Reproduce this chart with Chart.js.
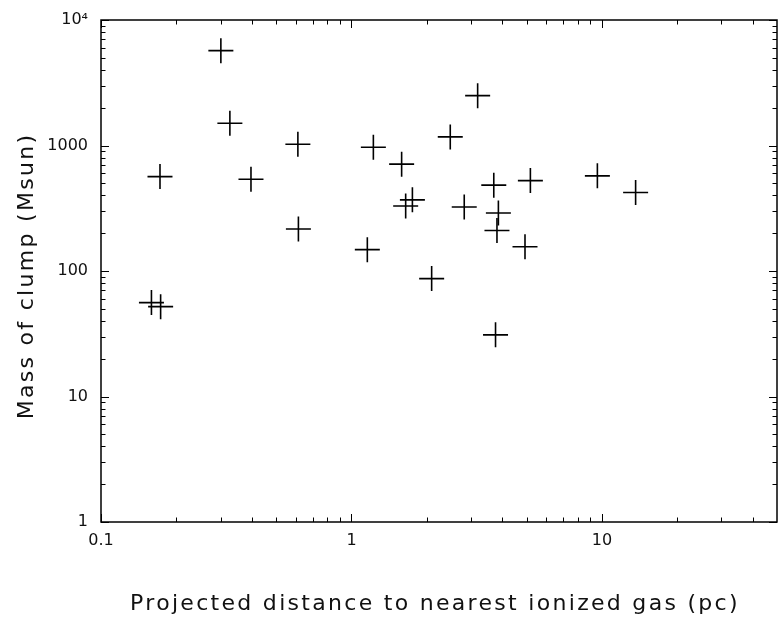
<!DOCTYPE html>
<html>
<head>
<meta charset="utf-8">
<script src="https://cdn.jsdelivr.net/npm/chart.js@4"></script>
<style>
  body { margin: 0; background: #fff; }
  canvas { display: block; }
</style>
</head>
<body>
<canvas id="clumps" width="782" height="619"></canvas>
<script>
// ---- data ----
const distance = [0.301, 0.327, 0.172, 0.397, 0.611, 0.614, 0.159, 0.173, 1.157, 1.223,
  1.586, 1.751, 1.646, 2.09, 2.48, 2.82, 3.19, 3.70, 3.86, 3.81, 3.76, 4.93, 5.18, 9.59, 13.63];
const mass = [5700, 1505, 565, 539, 1024, 216, 56, 52, 148, 969,
  710, 369, 330, 87, 1171, 324, 2496, 483, 290, 210, 31, 156, 525, 573, 422];

// axis ticks
const xTickValues = [0.1, 1, 10];
const xTickLabels = ['0.1', '1', '10'];
const yTickValues = [1, 10, 100, 1000, 10000];
const yTickLabels = ['1', '10', '100', '1000', '10\u2074'];
const xMinorDecades = [0.1, 1, 10];
const yMinorDecades = [1, 10, 100, 1000];
const minorSteps = [2, 3, 4, 5, 6, 7, 8, 9];

const X_MIN = 0.1, X_MAX = 50;
const Y_MIN = 1, Y_MAX = 10000;

const points = distance.map((d, i) => ({ x: d, y: mass[i] }));

function minorTicks(decades, max) {
  const out = [];
  decades.forEach(d => minorSteps.forEach(s => {
    const v = d * s;
    if (v < max) out.push(v);
  }));
  return out;
}

// small nudges so the titles sit where the original put them
const titleShift = { x: [-4, 0], y: [0, 5] };

// frame with inward ticks on all four sides
const frameTicks = {
  id: 'frameTicks',
  afterLayout(chart) {
    // wide, spaced-out axis titles like the original plot
    ['x', 'y'].forEach(id => {
      const s = chart.scales[id];
      if (s._spaced) return;
      const orig = s.drawTitle.bind(s);
      s.drawTitle = function () {
        const c = this.ctx;
        c.save();
        c.translate(titleShift[id][0], titleShift[id][1]);
        c.letterSpacing = '2.3px';
        orig();
        c.restore();
      };
      s._spaced = true;
    });
  },
  afterDraw(chart) {
    const ctx = chart.ctx;
    const { left, right, top, bottom } = chart.chartArea;
    const xs = chart.scales.x, ys = chart.scales.y;
    ctx.save();
    ctx.strokeStyle = '#000';
    ctx.lineWidth = 1.5;
    ctx.strokeRect(left, top, right - left, bottom - top);
    ctx.lineWidth = 1;
    ctx.beginPath();
    const xt = (v, len) => {
      const px = Math.round(xs.getPixelForValue(v)) + 0.5;
      ctx.moveTo(px, bottom); ctx.lineTo(px, bottom - len);
      ctx.moveTo(px, top); ctx.lineTo(px, top + len);
    };
    const yt = (v, len) => {
      const py = Math.round(ys.getPixelForValue(v)) + 0.5;
      ctx.moveTo(left, py); ctx.lineTo(left + len, py);
      ctx.moveTo(right, py); ctx.lineTo(right - len, py);
    };
    xTickValues.forEach(v => xt(v, 8));
    minorTicks(xMinorDecades, X_MAX).forEach(v => xt(v, 4.5));
    yTickValues.forEach(v => yt(v, 8));
    minorTicks(yMinorDecades, Y_MAX).forEach(v => yt(v, 4.5));
    ctx.stroke();
    ctx.restore();
  }
};

const tickFont = { family: 'DejaVu Sans', size: 16 };
const titleFont = { family: 'DejaVu Sans', size: 22 };

new Chart(document.getElementById('clumps'), {
  type: 'scatter',
  data: {
    datasets: [{
      data: points,
      pointStyle: 'cross',
      radius: 12.5,
      hoverRadius: 12.5,
      borderColor: '#000',
      borderWidth: 1.6,
      hoverBorderWidth: 1.6
    }]
  },
  options: {
    responsive: false,
    animation: false,
    devicePixelRatio: 1,
    layout: { autoPadding: false, padding: { top: 20, right: 5, left: 0, bottom: 0 } },
    plugins: { legend: { display: false }, tooltip: { enabled: false } },
    scales: {
      x: {
        type: 'logarithmic',
        min: X_MIN,
        max: X_MAX,
        grid: { display: false, drawTicks: false },
        border: { display: false },
        afterBuildTicks: s => { s.ticks = xTickValues.map(v => ({ value: v })); },
        afterFit: s => { s.height = 97; s.paddingLeft = 0; s.paddingRight = 0; },
        ticks: {
          autoSkip: false,
          maxRotation: 0,
          padding: 9,
          color: '#111',
          font: tickFont,
          callback: (v) => xTickLabels[xTickValues.indexOf(v)]
        },
        title: {
          display: true,
          text: 'Projected distance to nearest ionized gas (pc)',
          color: '#111',
          font: titleFont,
          padding: { top: 0, bottom: 2 }
        }
      },
      y: {
        type: 'logarithmic',
        min: Y_MIN,
        max: Y_MAX,
        grid: { display: false, drawTicks: false },
        border: { display: false },
        afterBuildTicks: s => { s.ticks = yTickValues.map(v => ({ value: v })); },
        afterFit: s => { s.width = 101; s.paddingTop = 0; s.paddingBottom = 0; },
        ticks: {
          autoSkip: false,
          padding: 13,
          color: '#111',
          font: tickFont,
          callback: (v) => yTickLabels[yTickValues.indexOf(v)]
        },
        title: {
          display: true,
          text: 'Mass of clump (Msun)',
          color: '#111',
          font: titleFont,
          padding: { top: 14, bottom: 0 }
        }
      }
    }
  },
  plugins: [frameTicks]
});
</script>
</body>
</html>
